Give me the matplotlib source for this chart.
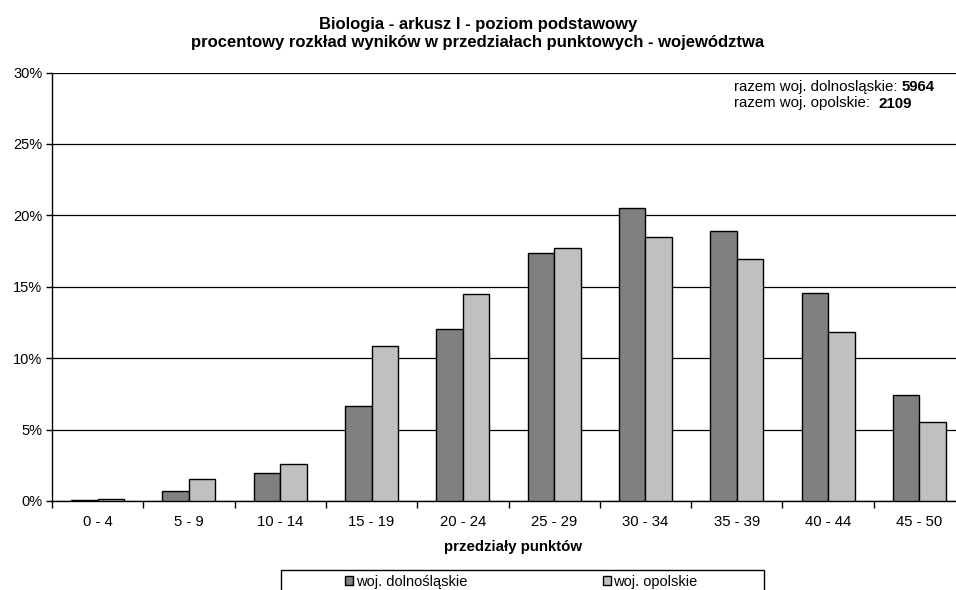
import matplotlib.pyplot as plt
import numpy as np
from matplotlib.patches import Rectangle

plt.rcParams["font.family"] = ["Liberation Sans", "DejaVu Sans"]

categories = ["0 - 4", "5 - 9", "10 - 14", "15 - 19", "20 - 24",
              "25 - 29", "30 - 34", "35 - 39", "40 - 44", "45 - 50"]
dolnoslaskie = [0.08, 0.70, 1.94, 6.65, 12.02, 17.38, 20.49, 18.92, 14.58, 7.44]
opolskie = [0.14, 1.54, 2.57, 10.87, 14.47, 17.73, 18.50, 16.94, 11.81, 5.51]
yticks = [0, 5, 10, 15, 20, 25, 30]

W, H = 956, 590
fig = plt.figure(figsize=(W / 100, H / 100), dpi=100)
# axes run a little past the right edge of the picture, like in the original
ax = fig.add_axes([52 / W, 1 - 501 / H, 913 / W, 428.5 / H])

x = np.arange(len(categories))
bw = 0.29
ax.bar(x - bw / 2, dolnoslaskie, bw, color="#808080", edgecolor="black",
       linewidth=1, label="woj. dolnośląskie", zorder=3)
ax.bar(x + bw / 2, opolskie, bw, color="#c0c0c0", edgecolor="black",
       linewidth=1, label="woj. opolskie", zorder=3)

ax.set_xlim(-0.5, len(categories) - 0.5)
ax.set_ylim(0, 30)
ax.set_yticks(yticks)
ax.set_yticklabels(["%d%%" % v for v in yticks])
ax.yaxis.grid(True, color="black", linewidth=0.9)
ax.set_axisbelow(True)

ax.set_xticks(x)
ax.set_xticklabels(categories)
ax.set_xticks(np.arange(len(categories) + 1) - 0.5, minor=True)
ax.tick_params(axis="x", which="major", length=0, pad=10, labelsize=10.7)
ax.tick_params(axis="x", which="minor", length=5, width=1, direction="out")
ax.tick_params(axis="y", length=4, width=1, labelsize=10.5, pad=3)

for s in ["top", "right"]:
    ax.spines[s].set_visible(False)
for s in ["left", "bottom"]:
    ax.spines[s].set_linewidth(1)
    ax.spines[s].set_color("black")

ax.set_xlabel("przedziały punktów", fontsize=10.8, fontweight="bold")
ax.xaxis.set_label_coords((513 - 52) / 913, (501 - 540) / 428.5)

fig.text(0.5, 1 - 28.5 / H, "Biologia - arkusz I - poziom podstawowy",
         ha="center", va="baseline", fontsize=12, fontweight="bold")
fig.text(0.5, 1 - 47 / H,
         "procentowy rozkład wyników w przedziałach punktowych - województwa",
         ha="center", va="baseline", fontsize=12, fontweight="bold")

y1 = 1 - 91.5 / H
y2 = 1 - 107.5 / H
t1 = fig.text(734 / W, y1, "razem woj. dolnosląskie: ",
              ha="left", va="baseline", fontsize=10.8)
fig.add_artist(plt.Annotation("5964", xy=(1, y1), xycoords=(t1, "figure fraction"),
                              ha="left", va="baseline", fontsize=10.8,
                              fontweight="bold"))
t2 = fig.text(734 / W, y2, "razem woj. opolskie:  ",
              ha="left", va="baseline", fontsize=10.8)
fig.add_artist(plt.Annotation("2109", xy=(1, y2), xycoords=(t2, "figure fraction"),
                              ha="left", va="baseline", fontsize=10.8,
                              fontweight="bold"))

# legend box runs off the bottom edge of the image
fig.patches.append(Rectangle((281 / W, -0.05), 483 / W, 0.05 + (590 - 570) / H,
                             transform=fig.transFigure, facecolor="white",
                             edgecolor="black", linewidth=1))
fig.legend(loc="center left", bbox_to_anchor=(345 / W, 1 - 582 / H),
           ncol=2, frameon=False, fontsize=10.5, handlelength=0.58,
           handleheight=0.58, handletextpad=0.15, columnspacing=9.3,
           borderpad=0, borderaxespad=0)

fig.savefig("out.png", dpi=100)
